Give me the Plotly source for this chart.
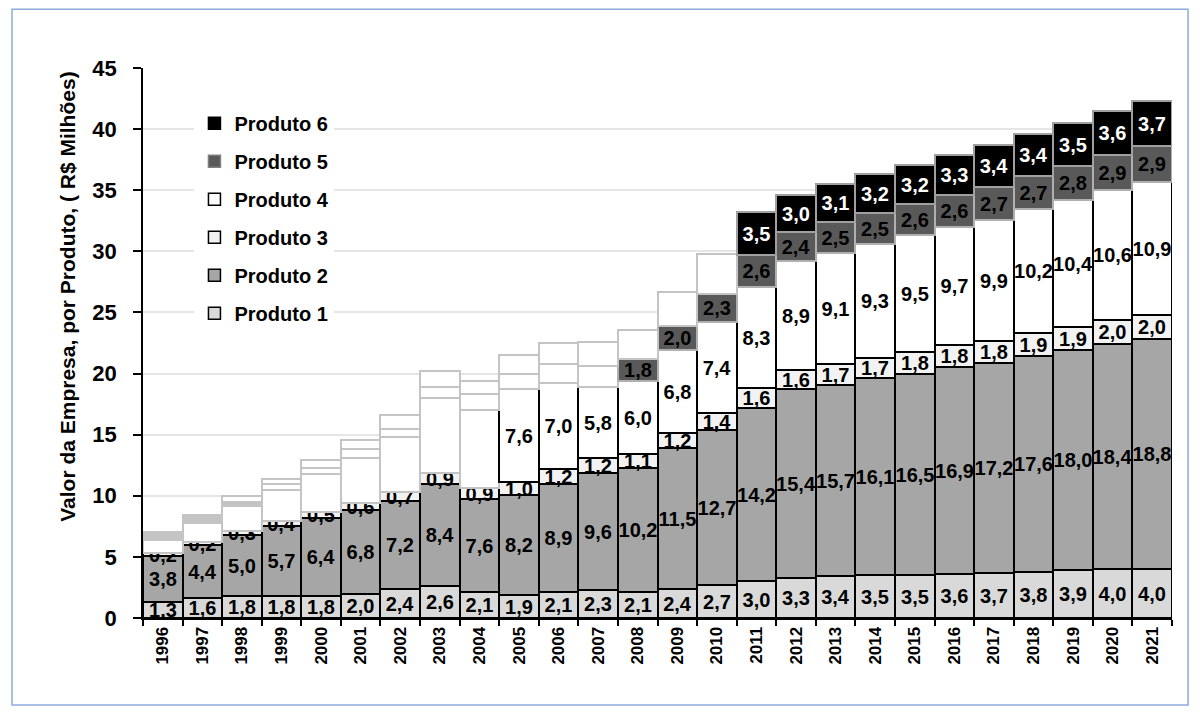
import plotly.graph_objects as go

years = [str(y) for y in range(1996, 2022)]
produto1 = [1.3, 1.6, 1.8, 1.8, 1.8, 2.0, 2.4, 2.6, 2.1, 1.9, 2.1, 2.3, 2.1, 2.4, 2.7, 3.0, 3.3, 3.4, 3.5, 3.5, 3.6, 3.7, 3.8, 3.9, 4.0, 4.0]
produto2 = [3.8, 4.4, 5.0, 5.7, 6.4, 6.8, 7.2, 8.4, 7.6, 8.2, 8.9, 9.6, 10.2, 11.5, 12.7, 14.2, 15.4, 15.7, 16.1, 16.5, 16.9, 17.2, 17.6, 18.0, 18.4, 18.8]
produto3 = [0.2, 0.2, 0.3, 0.4, 0.5, 0.6, 0.7, 0.9, 0.9, 1.0, 1.2, 1.2, 1.1, 1.2, 1.4, 1.6, 1.6, 1.7, 1.7, 1.8, 1.8, 1.8, 1.9, 1.9, 2.0, 2.0]
produto4 = [1.1, 1.6, 2.1, 2.6, 3.1, 3.7, 4.5, 6.1, 6.4, 7.6, 7.0, 5.8, 6.0, 6.8, 7.4, 8.3, 8.9, 9.1, 9.3, 9.5, 9.7, 9.9, 10.2, 10.4, 10.6, 10.9]
produto5 = [0.6, 0.6, 0.3, 0.45, 0.5, 0.7, 0.7, 0.9, 1.3, 1.3, 1.6, 1.7, 1.8, 2.0, 2.3, 2.6, 2.4, 2.5, 2.5, 2.6, 2.6, 2.7, 2.7, 2.8, 2.9, 2.9]
produto6 = [0.0, 0.0, 0.45, 0.45, 0.6, 0.8, 1.1, 1.3, 1.1, 1.5, 1.7, 2.0, 2.4, 2.8, 3.3, 3.5, 3.0, 3.1, 3.2, 3.2, 3.3, 3.4, 3.4, 3.5, 3.6, 3.7]
names = ["Produto 1", "Produto 2", "Produto 3", "Produto 4", "Produto 5", "Produto 6"]
y_title = "Valor da Empresa, por Produto, ( R$ Milhões)"
# first year in which each product's value is reported (earlier values are drawn faded)
first_reported = ["1996", "1996", "1996", "2005", "2008", "2011"]

series = [produto1, produto2, produto3, produto4, produto5, produto6]
fills = ["#d9d9d9", "#a6a6a6", "#f2f2f2", "#ffffff", "#595959", "#000000"]
borders = ["#000000", "#000000", "#000000", "#000000", "#b0b0b0", "#a0a0a0"]
text_colors = ["black", "black", "black", "black", "black", "white"]
ghost_border = "#c4c4c4"

FONT = "Liberation Sans, Arial, sans-serif"


def fmt(v):
    return f"{v:.1f}".replace(".", ",")


fig = go.Figure()
for k, (vals, name) in enumerate(zip(series, names)):
    first = years.index(first_reported[k])
    colors, lcolors, texts = [], [], []
    for i, v in enumerate(vals):
        if i >= first:
            colors.append(fills[k])
            lcolors.append(borders[k])
            texts.append(fmt(v))
        else:
            # faded, unreported segment
            if k == 4 and i <= 2:
                colors.append("#c4c4c4")
            else:
                colors.append("#ffffff")
            lcolors.append(ghost_border)
            texts.append("")
    fig.add_trace(go.Bar(
        x=years, y=vals, name=name, showlegend=False,
        marker=dict(color=colors, line=dict(color=lcolors, width=2)),
        text=texts, textposition="inside", insidetextanchor="middle",
        textangle=0, constraintext="none", cliponaxis=False,
        textfont=dict(family=FONT, size=20, color=text_colors[k], weight="bold"),
        hoverinfo="x+y+name",
    ))

# legend entries (Produto 6 on top)
for k in reversed(range(len(names))):
    fig.add_trace(go.Bar(
        x=[None], y=[None], name=names[k], legendgroup=names[k], showlegend=True,
        marker=dict(color=fills[k], line=dict(color="#000000" if k != 4 else "#7f7f7f", width=1.5)),
        hoverinfo="skip",
    ))

fig.update_layout(
    width=1200, height=720,
    barmode="stack", bargap=0,
    paper_bgcolor="white", plot_bgcolor="white",
    margin=dict(l=143, r=28, t=68, b=102),
    font=dict(family=FONT, color="black"),
    uniformtext=dict(minsize=20, mode="show"),
    legend=dict(
        x=0.050, y=0.935, xanchor="left", yanchor="top",
        traceorder="grouped", tracegroupgap=9,
        bgcolor="white", borderwidth=0,
        font=dict(family=FONT, size=20, color="black", weight="bold"),
        itemwidth=30,
    ),
    xaxis=dict(
        type="category", tickangle=-90, tickson="boundaries",
        ticks="outside", ticklen=6, tickwidth=1.5, tickcolor="black",
        showline=True, linecolor="black", linewidth=2,
        tickfont=dict(family=FONT, size=17, color="black", weight="bold"),
        showgrid=False,
    ),
    yaxis=dict(
        range=[0, 45], dtick=5, tick0=0,
        ticks="outside", ticklen=8, tickwidth=1.5, tickcolor="black",
        ticklabelstandoff=12,
        showline=True, linecolor="black", linewidth=1.5,
        showgrid=True, gridcolor="#e6e6e6", gridwidth=1.5,
        zeroline=False,
        tickfont=dict(family=FONT, size=22, color="black", weight="bold"),
    ),
    annotations=[dict(
        text=y_title, textangle=-90, xref="paper", yref="paper",
        x=-0.0729, y=0.584, xanchor="center", yanchor="middle", showarrow=False,
        font=dict(family=FONT, size=21, color="black", weight="bold"),
    )],
    shapes=[dict(type="rect", xref="paper", yref="paper",
                 x0=-0.1273, x1=1.0156, y0=-0.158, y1=1.107,
                 line=dict(color="#8eaadb", width=1.5), fillcolor="rgba(0,0,0,0)", layer="below")],
)

fig.write_html("out.html")
